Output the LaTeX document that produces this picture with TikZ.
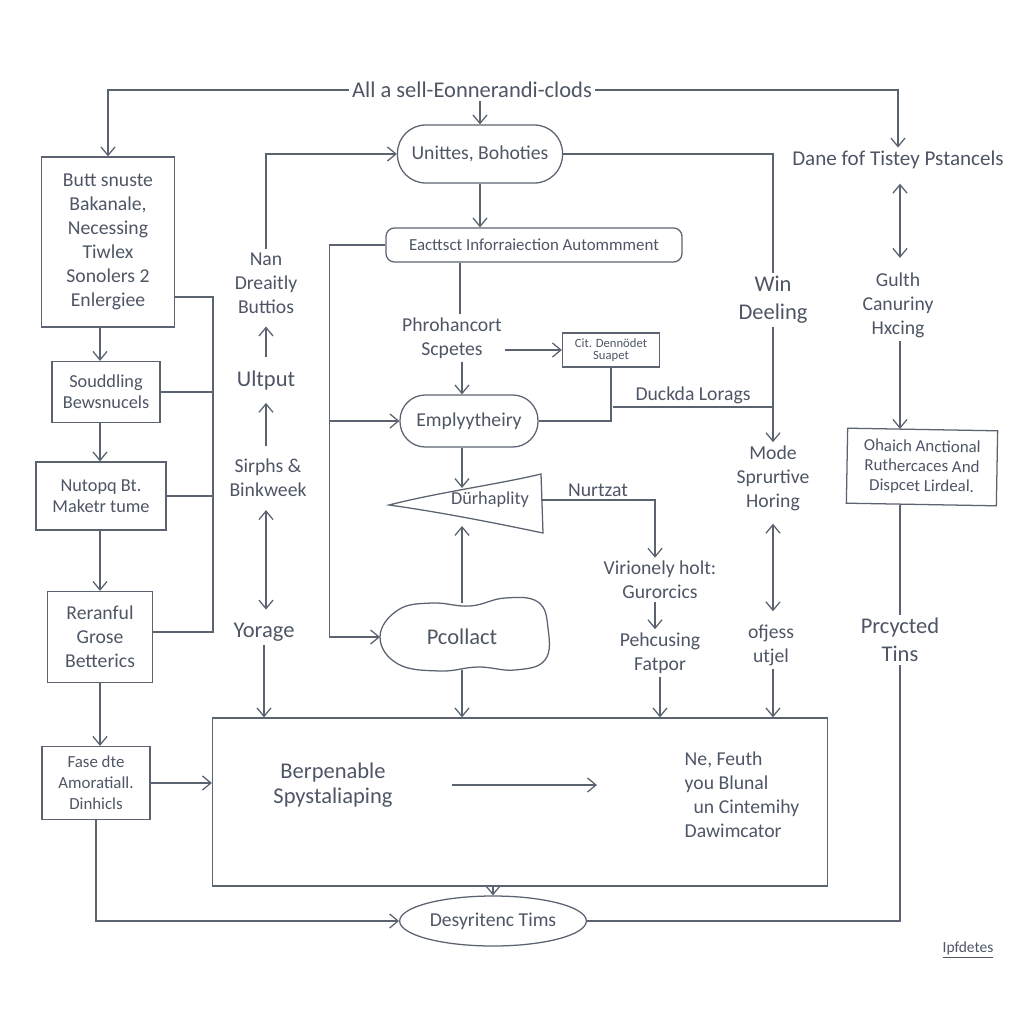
\documentclass[tikz,border=0pt]{standalone}
\usepackage{fontspec}
\setmainfont{Carlito}
\usetikzlibrary{arrows.meta,shapes.geometric}
\definecolor{linec}{HTML}{5B6371}
\definecolor{inkc}{HTML}{4E5666}

\begin{document}
\begin{tikzpicture}[x=0.025cm,y=-0.025cm,line width=0.9pt,color=linec,>={Straight Barb[length=6pt,width=10pt]}]
  \def\u{0.025cm}

\tikzstyle{lbl}=[align=center,text=inkc,font=\fontsize{14}{17}\selectfont,inner sep=2pt]
\tikzstyle{box}=[lbl,draw,rectangle]
\tikzstyle{pill}=[lbl,draw,rectangle,rounded corners=18pt]
\tikzstyle{gap}=[shorten >=7pt,shorten <=7pt]
\fill[white] (0,0) rectangle (1024,1024);

\node[lbl,font=\fontsize{16}{18}\selectfont] (title) at (472,90) {All a sell-Eonnerandi-clods};
\node[pill,minimum width=165*\u,minimum height=58*\u,rounded corners=20pt] (unit) at (480,154) {Unittes, Bohoties};
\node[box,rounded corners=6pt,minimum width=296*\u,minimum height=34*\u,font=\fontsize{12}{14}\selectfont] (eact) at (534,245) {Eacttsct Inforraiection Autommment};
\node[lbl,font=\fontsize{15}{17}\selectfont] (dane) at (898,160) {Dane fof Tistey Pstancels};

\node[box,minimum width=133*\u,minimum height=170*\u] (butt) at (108,242) {Butt snuste\\Bakanale,\\Necessing\\Tiwlex\\Sonolers 2\\Enlergiee};
\node[box,minimum width=108*\u,minimum height=61*\u,font=\fontsize{13}{15}\selectfont] (soud) at (106,392) {Souddling\\Bewsnucels};
\node[box,minimum width=130*\u,minimum height=68*\u,font=\fontsize{13}{15}\selectfont] (nut) at (101,496) {Nutopq Bt.\\Maketr tume};
\node[box,minimum width=105*\u,minimum height=91*\u] (rer) at (100,637) {Reranful\\Grose\\Betterics};
\node[box,minimum width=108*\u,minimum height=73*\u,font=\fontsize{12}{15}\selectfont] (fase) at (96,783) {Fase dte\\Amoratiall.\\Dinhicls};

\node[lbl] (nan) at (266,283) {Nan\\Dreaitly\\Buttios};
\node[lbl,font=\fontsize{16}{18}\selectfont] (ultput) at (266,380) {Ultput};
\node[lbl] (sirphs) at (268,478) {Sirphs \&\\Binkweek};
\node[lbl,font=\fontsize{16}{18}\selectfont] (yorage) at (264,632) {Yorage};

\node[lbl] (phro) at (452,338) {Phrohancort\\Scpetes};
\node[box,font=\fontsize{9}{9}\selectfont,minimum width=97*\u,minimum height=34*\u,inner sep=1pt] (cit) at (611,350) {Cit. Dennödet\\Suapet};
\node[pill,minimum width=138*\u,minimum height=52*\u] (emply) at (469,421) {Emplyytheiry};
\node[lbl,font=\fontsize{13}{15}\selectfont] (durh) at (490,500) {Dürhaplity};
\node[lbl,font=\fontsize{16}{18}\selectfont] (pcol) at (462,637) {Pcollact};
\node[lbl] (viri) at (660,580) {Virionely holt:\\Gurorcics};
\node[lbl] (pehc) at (660,653) {Pehcusing\\Fatpor};

\node[lbl,font=\fontsize{16}{20}\selectfont] (win) at (773,300) {Win\\Deeling};
\node[lbl] (mode) at (773,478) {Mode\\Sprurtive\\Horing};
\node[lbl] (ofjess) at (771,645) {ofjess\\utjel};
\node[lbl] (gulth) at (898,305) {Gulth\\Canuriny\\Hxcing};
\node[box,rotate=-1,font=\fontsize{12}{14}\selectfont,minimum width=150*\u,minimum height=75*\u] (sbaich) at (922,467) {Ohaich Anctional\\Ruthercaces And\\Dispcet Lirdeal.};
\node[lbl,font=\fontsize{16}{20}\selectfont] (prcy) at (900,640) {Prcycted\\Tins};

\node[box,minimum width=615*\u,minimum height=168*\u] (big) at (520,802) {};
\node[lbl,font=\fontsize{16}{18}\selectfont] (berp) at (333,785) {Berpenable\\Spystaliaping};
\node[lbl,align=left] (neF) at (742,795) {Ne, Feuth\\you Blunal\\\ \ un Cintemihy\\Dawimcator};
\node[lbl,draw,ellipse,minimum width=177*\u,minimum height=50*\u] (desyn) at (493,921) {Desyritenc Tims};
\node[lbl,font=\fontsize{11}{13}\selectfont] (sign) at (968,950) {\underline{Ipfdetes}};

\coordinate (dtip) at (389,505);
\coordinate (dtr) at (541,474);
\coordinate (dbr) at (543,533);
\draw (dtip) .. controls (440,492) and (500,484) .. (dtr) -- (dbr) .. controls (500,524) and (440,512) .. (dtip) -- cycle;
\draw[smooth cycle,tension=0.7] plot coordinates {(380,637) (398,610) (432,603) (470,606) (505,598) (538,602) (548,628) (545,660) (515,670) (478,667) (440,671) (398,664)};
\coordinate (pcolN) at (462,603);
\coordinate (pcolS) at (462,670);
\coordinate (pcolW) at (380,637);
\coordinate (busT) at (213,297);
\coordinate (busB) at (213,632);
\coordinate (j1) at (330,421);
\coordinate (jd) at (613,407);

\draw[->] (title.west) -| (butt.north);
\draw[->] (title.east) -| (dane.north);
\draw[->] (title.south -| unit.north) -- (unit.north);
\draw[->] (unit.south) -- (unit.south |- eact.north);
\draw (unit.east) -| (win.north);
\draw[->] (nan.north) |- (unit.west);
\draw[->,gap] (ultput.north) -- (ultput.north |- nan.south);
\draw[->,gap] (ultput.south |- sirphs.north) -- (ultput.south);
\draw[<->,gap] (ultput.south |- sirphs.south) -- (ultput.south |- yorage.north);
\draw[->] (yorage.south) -- (yorage.south |- big.north);

\draw (busT -| butt.east) -- (busT) -- (busB) -- (busB -| rer.east);
\draw (soud.east) -- (soud.east -| busT);
\draw (nut.east) -- (nut.east -| busT);
\draw[->] (rer.north |- butt.south) -- (rer.north |- soud.north);
\draw[->] (rer.north |- soud.south) -- (rer.north |- nut.north);
\draw[->] (rer.north |- nut.south) -- (rer.north);
\draw[->] (rer.south) -- (rer.south |- fase.north);
\draw[->] (fase.east) -- (fase.east -| big.west);
\draw[->] (fase.south) |- (desyn.west);

\draw[->] (eact.west) -- ++(-56,0) |- (pcolW);
\draw[->] (j1) -- (emply.west);
\draw (eact.south -| 460,0) -- (phro.north -| 460,0);
\draw[->] (cit.west -| phro.east) -- (cit.west);
\draw[->] (phro.south -| 462,0) -- (emply.north -| 462,0);
\draw (emply.east) -| (cit.south);
\draw (jd) -- (jd -| win) node[midway,above,lbl] (duckda) {Duckda Lorags};
\draw[->] (win.south) -- (mode.north);
\draw[->] (emply.south -| 462,0) -- (462,488);
\draw[->] (pcolN) -- (pcolN |- 0,526);
\draw[->] (durh.east -| dtr) -| (viri.north -| 655,0) node[pos=0.25,above,lbl] (nurtzat) {Nurtzat};
\draw[->] (viri.south -| 655,0) -- (pehc.north -| 655,0);
\draw[->] (pehc.south) -- (pehc.south |- big.north);
\draw[->] (pcolS) -- (pcolS |- big.north);
\draw[<->,gap] (mode.south) -- (mode.south |- ofjess.north);
\draw[->] (ofjess.south -| mode.south) -- (mode.south |- big.north);

\draw[<->,shorten >=8pt,shorten <=8pt] (dane.south -| prcy) -- (prcy |- gulth.north);
\draw[->] (gulth.south -| prcy) -- (prcy |- sbaich.north);
\draw (prcy |- sbaich.south) -- (prcy.north);
\draw (prcy.south) |- (desyn.east);
\draw[->] (big.south -| desyn) -- (desyn.north);
\draw[->,shorten <=40pt,shorten >=60pt] (berp.east) -- (berp.east -| neF.west);
\end{tikzpicture}
\end{document}
